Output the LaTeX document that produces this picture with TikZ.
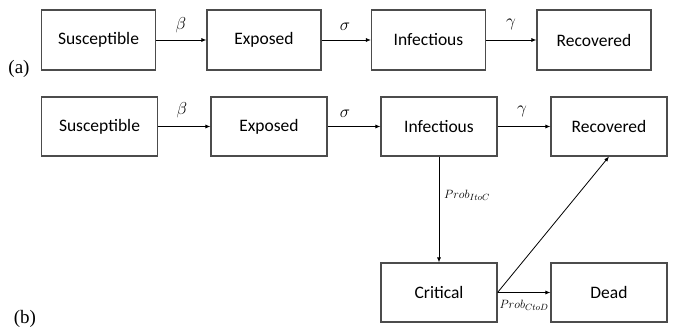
\documentclass[tikz,border=0pt]{standalone}
\usepackage{fontspec}
\setmainfont{Liberation Serif}
\newfontfamily\boxfont{Carlito}
\usetikzlibrary{arrows.meta}
\begin{document}
\begin{tikzpicture}[x=1pt,y=-1pt,>={Latex[length=5pt,width=4pt]},state/.style={draw=black!70,line width=1.1pt,inner sep=0pt,minimum width=114pt,minimum height=60pt,font=\boxfont\fontsize{17.5}{20}\selectfont},rate/.style={font=\fontsize{17.5}{20}\selectfont}]
\tikzstyle{flow} = [draw,->,line width=0.8pt]
\tikzstyle{prob} = [font=\fontsize{12.5}{14}\selectfont,inner sep=1pt]

\useasboundingbox (0,0) rectangle (675,328);

% (a)
\node[state] at (98.5,40) (sa) {Susceptible};
\node[state] at (264,40) (ea) {Exposed};
\node[state] at (428.5,40) (ia) {Infectious};
\node[state] at (594,40) (ra) {Recovered};
\draw[flow] (sa) -- (ea);
\draw[flow] (ea) -- (ia);
\draw[flow] (ia) -- (ra);
\node[rate] at (181,25) (betaa) {$\beta$};
\node[rate] at (345,27) (sigmaa) {$\sigma$};
\node[rate] at (511,24) (gammaa) {$\gamma$};
\node[font=\fontsize{19}{22}\selectfont] at (19,69) (taga) {(a)};

% (b)
\node[state,minimum width=116pt,minimum height=59pt] at (99.5,126.5) (sb) {Susceptible};
\node[state,minimum width=116pt,minimum height=59pt] at (269,126.5) (eb) {Exposed};
\node[state,minimum width=116pt,minimum height=59pt] at (439,126.5) (ib) {Infectious};
\node[state,minimum width=116pt,minimum height=59pt] at (609,126.5) (rb) {Recovered};
\node[state,minimum width=116pt,minimum height=59pt] at (439,292.5) (cb) {Critical};
\node[state,minimum width=116pt,minimum height=59pt] at (609,292.5) (db) {Dead};
\draw[flow] (sb) -- (eb);
\draw[flow] (eb) -- (ib);
\draw[flow] (ib) -- (rb);
\draw[flow] (ib) -- (cb);
\draw[flow] (cb.east) -- (db.west);
\draw[flow] (cb.east) -- (rb.south);
\node[rate] at (182,110) (betab) {$\beta$};
\node[rate] at (345,114) (sigmab) {$\sigma$};
\node[rate] at (522,111) (gammab) {$\gamma$};
\node[prob] at (467,195) (itoc) {$Prob_{ItoC}$};
\node[prob] at (524,305) (ctod) {$Prob_{CtoD}$};
\node[font=\fontsize{19}{22}\selectfont] at (25,319) (tagb) {(b)};

\end{tikzpicture}
\end{document}
